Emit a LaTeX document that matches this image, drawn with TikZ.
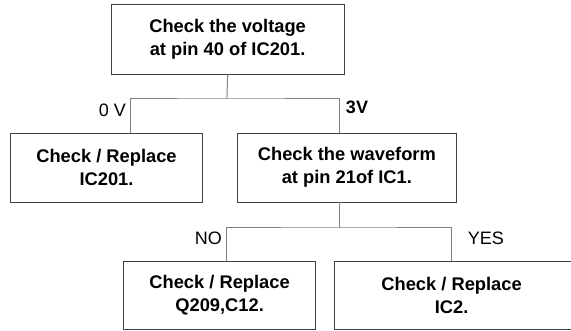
\documentclass[tikz,border=0pt]{standalone}
\usepackage{fontspec}
\setmainfont{Liberation Sans}
\tikzset{
  checkbox/.style={draw=black!75, line width=0.9pt, align=center,
    font=\fontsize{18.3}{22.6}\selectfont\bfseries, inner sep=0pt},
  checktext/.style={align=center, inner sep=0pt,
    font=\fontsize{18.3}{22.6}\selectfont\bfseries},
  wire/.style={draw=black!50, line width=1pt},
  branch/.style={font=\fontsize{18}{22}\selectfont, inner sep=0pt}
}
\begin{document}
\begin{tikzpicture}[x=1pt,y=-1pt]
  \useasboundingbox (0,0) rectangle (571,331);
  \node[checkbox, minimum width=233pt, minimum height=70pt] (volt) at (227.6,39) {Check the voltage\\at pin 40 of IC201.};
  \node[checkbox, minimum width=192.6pt, minimum height=69pt] (icA) at (106.5,167.5) {Check / Replace\\IC201.};
  \node[checkbox, minimum width=219.6pt, minimum height=69pt] (wave) at (346.9,167.5) {Check the waveform\\at pin 21of IC1.};
  \node[checkbox, minimum width=191.6pt, minimum height=68.6pt] (qc) at (219.6,295.3) {Check / Replace\\Q209,C12.};
  \node[checkbox, minimum width=260pt, minimum height=68.6pt,
    label={[checktext, xshift=-13.1pt]center:{Check / Replace\\IC2.}}] (icB) at (464.7,295.3) {};
  \coordinate (vj) at (226.9,99);
  \coordinate (wj) at (339,228);
  % branches
  \draw[wire] (volt.south) -- (vj);
  \draw[wire] ([xshift=23.9pt]icA.north) |- (vj) -| ([xshift=-7.9pt]wave.north);
  \draw[wire] ([xshift=-7.9pt]wave.south) -- (wj);
  \draw[wire] ([xshift=7.3pt]qc.north) |- (wj) -| ([xshift=-13.1pt]icB.north);
  \node[branch] (zero) at (112.3,110) {0 V};
  \node[branch, font=\fontsize{18}{22}\selectfont\bfseries] (three) at (357,107) {3V};
  \node[branch] (no) at (208.3,238) {NO};
  \node[branch] (yes) at (485.8,238) {YES};
\end{tikzpicture}
\end{document}
